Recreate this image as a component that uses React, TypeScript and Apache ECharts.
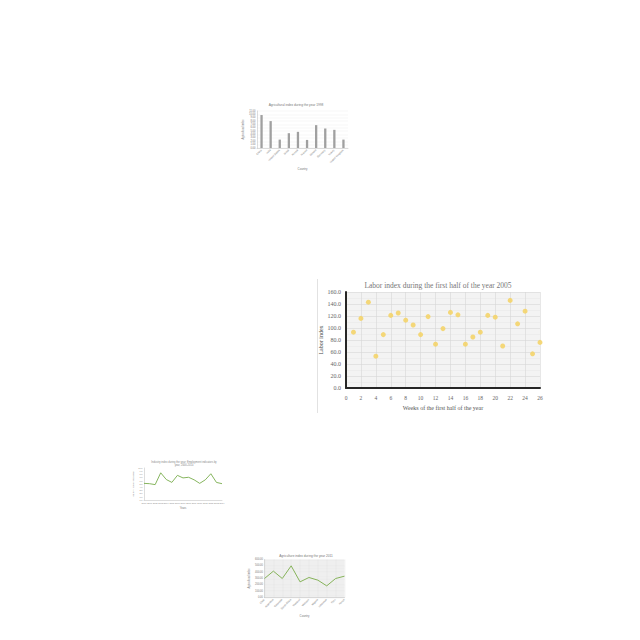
import React, { useEffect, useRef } from "react";
import * as echarts from "echarts";

// Main scatter chart
const weeks = [1, 2, 3, 4, 5, 6, 7, 8, 9, 10, 11, 12, 13, 14, 15, 16, 17, 18, 19, 20, 21, 22, 23, 24, 25, 26];
const laborIndex = [93, 116, 143, 53, 89, 121, 125, 113, 105, 89, 119, 73, 99, 126, 122, 73, 85, 93, 121, 118, 70, 146, 107, 128, 57, 76];

// Small bar chart (top)
const barCountries = ["China", "India", "United States", "Brazil", "Russia", "France", "Mexico", "Germany", "Turkey", "United Kingdom"];
const barValues = [9.8, 8.0, 2.5, 4.4, 4.8, 2.4, 6.8, 5.8, 5.4, 2.5];

// Small line chart (left)
const years = ["2000", "2001", "2002", "2003", "2004", "2005", "2006", "2007", "2008", "2009", "2010", "2011", "2012", "2013", "2014"];
const yearValues = [5.2, 5.1, 4.8, 8.5, 6.4, 5.5, 7.7, 6.9, 7.1, 6.3, 5.2, 6.3, 8.2, 5.5, 5.1];

// Small line chart (bottom)
const lineCountries = ["Chile", "Argentina", "Colombia", "South Africa", "Thailand", "Vietnam", "Nigeria", "Indonesia", "Peru", "Kenya"];
const lineValues = [300, 416, 300, 500, 247, 316, 274, 184, 300, 337];

const serif = "'Liberation Serif', 'DejaVu Serif', serif";
const sans = "'Liberation Sans', 'Open Sans', sans-serif";

export default function App() {
  const ref = useRef<HTMLDivElement>(null);
  useEffect(() => {
    if (!ref.current) return;
    const chart = echarts.init(ref.current, null, { renderer: "svg" });
    const tinyLabel = { fontSize: 2.6, color: "#777", fontFamily: sans };
    chart.setOption({
      animation: false,
      backgroundColor: "#ffffff",
      title: [
        {
          text: "Labor index during the first half of the year 2005",
          left: 438, top: 281, textAlign: "center", padding: 0,
          textStyle: { fontSize: 7.5, fontWeight: "normal", color: "#777", fontFamily: serif },
        },
        {
          text: "Agricultural index during the year 1998",
          left: 296, top: 103.3, textAlign: "center", padding: 0,
          textStyle: { fontSize: 3.2, fontWeight: "normal", color: "#777", fontFamily: sans },
        },
        {
          text: "Industry index during the year: Employment indicators by\nyear, 2000-2014",
          left: 184, top: 461, textAlign: "center", padding: 0,
          textStyle: { fontSize: 2.6, fontWeight: "normal", color: "#888", fontFamily: sans, lineHeight: 3 },
        },
        {
          text: "Agriculture index during the year 2011",
          left: 306, top: 554.3, textAlign: "center", padding: 0,
          textStyle: { fontSize: 3.2, fontWeight: "normal", color: "#777", fontFamily: sans },
        },
      ],
      graphic: [
        { type: "line", shape: { x1: 317.5, y1: 279, x2: 317.5, y2: 413 }, style: { stroke: "#e2e2e2", lineWidth: 1 } },
      ],
      grid: [
        { left: 346, top: 292, width: 194, height: 96, show: true, backgroundColor: "#f3f3f3", borderWidth: 0 },
        { left: 257, top: 111, width: 91, height: 37 },
        { left: 144, top: 468, width: 78, height: 32 },
        { left: 264.5, top: 559.5, width: 80, height: 38, show: true, backgroundColor: "#f1f1f1", borderWidth: 0 },
      ],
      xAxis: [
        {
          gridIndex: 0, type: "value", min: 0, max: 26, interval: 2,
          axisLine: { show: true, lineStyle: { color: "#262626", width: 2 } },
          axisTick: { show: false },
          axisLabel: { fontSize: 5.5, color: "#666", fontFamily: serif, margin: 7 },
          splitLine: { show: true, lineStyle: { color: "#d6d6d6", width: 0.6 } },
          name: "Weeks of the first half of the year", nameLocation: "middle", nameGap: 16.5,
          nameTextStyle: { fontSize: 6, color: "#555", fontFamily: serif },
        },
        {
          gridIndex: 1, type: "category", data: barCountries,
          axisLine: { show: true, lineStyle: { color: "#bbb", width: 0.5 } },
          axisTick: { show: false },
          axisLabel: { ...tinyLabel, rotate: 45, margin: 2, interval: 0 },
          name: "Country", nameLocation: "middle", nameGap: 16,
          nameTextStyle: { fontSize: 2.8, color: "#777", fontFamily: sans },
        },
        {
          gridIndex: 2, type: "category", data: years, boundaryGap: false,
          axisLine: { show: true, lineStyle: { color: "#bbb", width: 0.5 } },
          axisTick: { show: false },
          axisLabel: { fontSize: 2.2, color: "#888", fontFamily: sans, margin: 2, interval: 0 },
          name: "Years", nameLocation: "middle", nameGap: 7,
          nameTextStyle: { fontSize: 2.6, color: "#777", fontFamily: sans },
        },
        {
          gridIndex: 3, type: "category", data: lineCountries, boundaryGap: false,
          axisLine: { show: true, lineStyle: { color: "#bbb", width: 0.5 } },
          axisTick: { show: false },
          axisLabel: { ...tinyLabel, rotate: 45, margin: 2, interval: 0 },
          splitLine: { show: true, lineStyle: { color: "#dedede", width: 0.3 } },
          name: "Country", nameLocation: "middle", nameGap: 15,
          nameTextStyle: { fontSize: 2.8, color: "#777", fontFamily: sans },
        },
      ],
      yAxis: [
        {
          gridIndex: 0, type: "value", min: 0, max: 160, interval: 20,
          axisLine: { show: true, lineStyle: { color: "#262626", width: 2 } },
          axisTick: { show: false },
          axisLabel: { fontSize: 6, color: "#666", fontFamily: serif, margin: 5, formatter: (v: number) => v.toFixed(1) },
          splitLine: { show: true, lineStyle: { color: "#d6d6d6", width: 0.6 } },
          minorTick: { show: false, splitNumber: 2 },
          minorSplitLine: { show: true, lineStyle: { color: "#e6e6e6", width: 0.5 } },
          name: "Labor index", nameLocation: "middle", nameGap: 22,
          nameTextStyle: { fontSize: 6, color: "#444", fontFamily: serif },
        },
        {
          gridIndex: 1, type: "value", min: 0, max: 11, interval: 1,
          axisLine: { show: true, lineStyle: { color: "#bbb", width: 0.5 } },
          axisTick: { show: false },
          axisLabel: { ...tinyLabel, margin: 1.5, formatter: (v: number) => v.toFixed(2) },
          splitLine: { show: true, lineStyle: { color: "#e4e4e4", width: 0.3 } },
          name: "Agricultural index", nameLocation: "middle", nameGap: 9,
          nameTextStyle: { fontSize: 2.6, color: "#777", fontFamily: sans },
        },
        {
          gridIndex: 2, type: "value", min: 0, max: 10, interval: 1,
          axisLine: { show: true, lineStyle: { color: "#bbb", width: 0.5 } },
          axisTick: { show: false },
          axisLabel: { fontSize: 2.2, color: "#888", fontFamily: sans, margin: 1.5, formatter: (v: number) => v.toFixed(1) },
          splitLine: { show: false },
          name: "Industry index (thousands)", nameLocation: "middle", nameGap: 6,
          nameTextStyle: { fontSize: 2.2, color: "#777", fontFamily: sans },
        },
        {
          gridIndex: 3, type: "value", min: 0, max: 600, interval: 100,
          axisLine: { show: true, lineStyle: { color: "#bbb", width: 0.5 } },
          axisTick: { show: false },
          axisLabel: { ...tinyLabel, margin: 1.5, formatter: (v: number) => v.toFixed(2) },
          splitLine: { show: true, lineStyle: { color: "#dcdcdc", width: 0.3 } },
          minorTick: { show: false, splitNumber: 4 },
          minorSplitLine: { show: true, lineStyle: { color: "#e6e6e6", width: 0.2 } },
          name: "Agricultural index", nameLocation: "middle", nameGap: 10,
          nameTextStyle: { fontSize: 2.6, color: "#777", fontFamily: sans },
        },
      ],
      series: [
        {
          type: "scatter", xAxisIndex: 0, yAxisIndex: 0,
          data: weeks.map((w, i) => [w, laborIndex[i]]),
          symbolSize: 5,
          itemStyle: { color: "#f4d46a", opacity: 0.9 },
        },
        {
          type: "bar", xAxisIndex: 1, yAxisIndex: 1, data: barValues,
          barWidth: 2.3, itemStyle: { color: "#a0a0a0" },
        },
        {
          type: "line", xAxisIndex: 2, yAxisIndex: 2, data: yearValues,
          showSymbol: false, lineStyle: { color: "#78ad4c", width: 0.9 },
        },
        {
          type: "line", xAxisIndex: 3, yAxisIndex: 3, data: lineValues,
          showSymbol: false, lineStyle: { color: "#86b35a", width: 1 },
        },
      ],
    });
    return () => chart.dispose();
  }, []);
  return (
    <div
      ref={ref}
      style={{ position: "absolute", left: 0, top: 0, width: 640, height: 640, background: "#fff" }}
    />
  );
}
